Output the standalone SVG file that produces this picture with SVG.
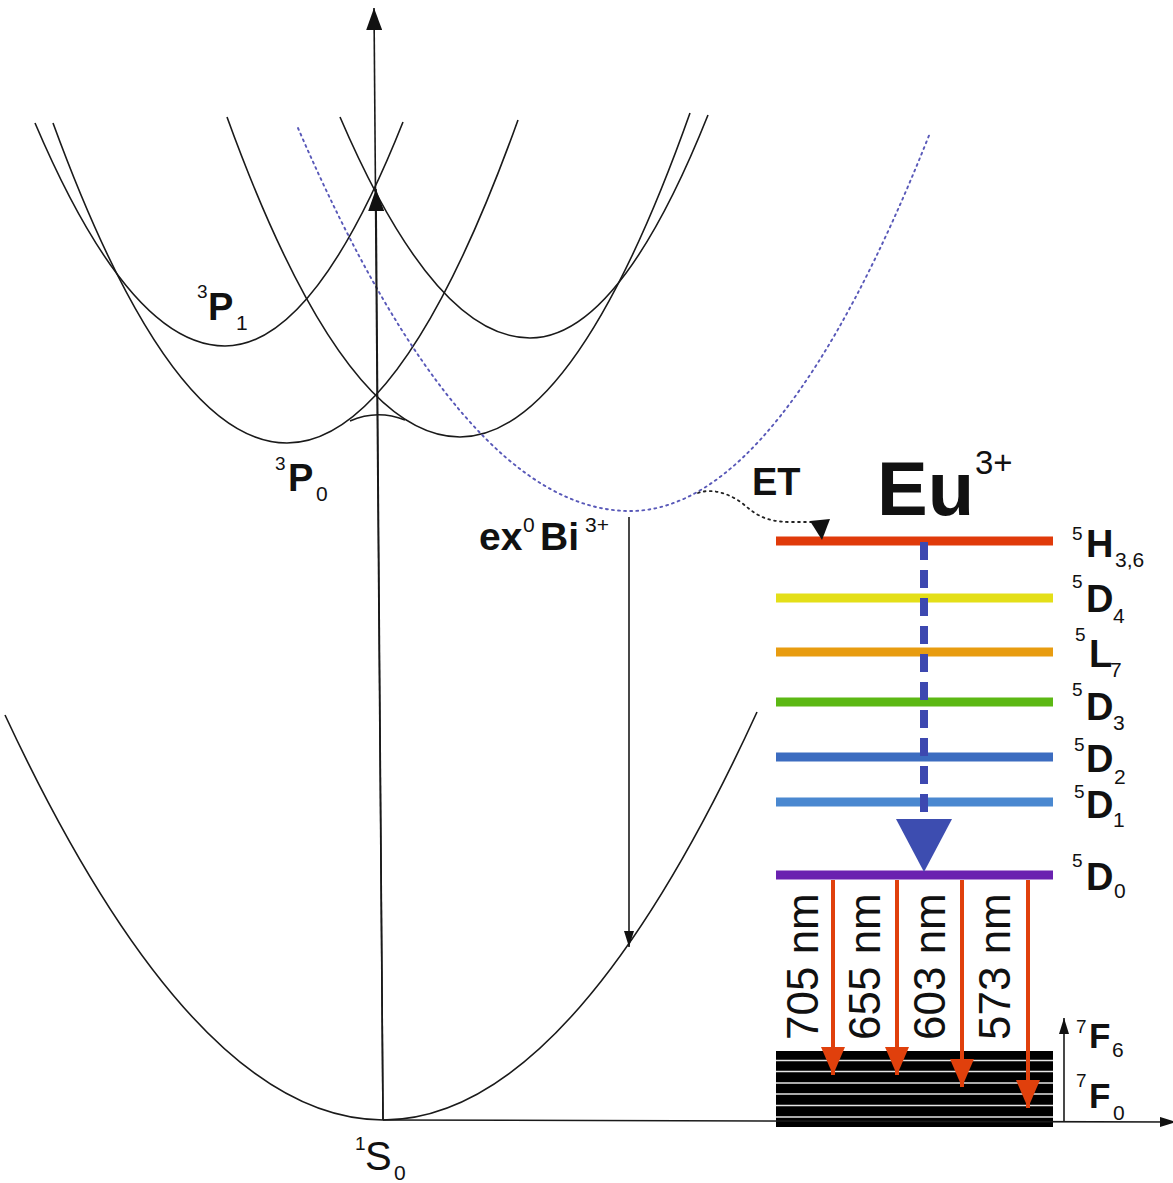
<svg xmlns="http://www.w3.org/2000/svg" width="1173" height="1183" viewBox="0 0 1173 1183">
<style>
text{font-family:"Liberation Sans",Arial,sans-serif;fill:#111}
.bd{font-weight:bold}
.curve{fill:none;stroke:#1a1a1a;stroke-width:1.6}
.dotb{fill:none;stroke:#5858b8;stroke-width:1.9;stroke-dasharray:1.9 4.2;stroke-linecap:round}
.dotk{fill:none;stroke:#222;stroke-width:1.8;stroke-dasharray:1.8 4.2;stroke-linecap:round}
.ax{stroke:#1a1a1a;stroke-width:1.6;fill:none}
.lvl{stroke-width:9}
.red{stroke:#e0400c;stroke-width:4}
.sup{font-size:19px}
.sub{font-size:21px}
.big{font-size:38px;font-weight:bold}
.nm{font-size:44px}
</style>
<defs>
<marker id="ahBig" viewBox="0 0 22 16" refX="22" refY="8" markerWidth="22" markerHeight="16" markerUnits="userSpaceOnUse" orient="auto">
<path d="M0,0 L22,8 L0,16 z" fill="#111"/>
</marker>
<marker id="ahSm" viewBox="0 0 16 10" refX="16" refY="5" markerWidth="16" markerHeight="10" markerUnits="userSpaceOnUse" orient="auto">
<path d="M0,0 L16,5 L0,10 z" fill="#111"/>
</marker>
<marker id="ahRed" viewBox="0 0 28 24" refX="28" refY="12" markerWidth="28" markerHeight="24" markerUnits="userSpaceOnUse" orient="auto">
<path d="M0,0 L28,12 L0,24 z" fill="#e0400c"/>
</marker>
</defs>

<g id="ground-1S0">
<path class="curve" d="M5,715 Q194,1120 383,1120 Q570,1120 757,712"/>
</g>
<g id="curve-3P1-left">
<path class="curve" d="M35,123 Q130,346 225,346 Q314,346 403,122"/>
</g>
<g id="curve-3P1-right">
<path class="curve" d="M340,117 Q435,338 530,338 Q619,338 708,115"/>
</g>
<g id="curve-3P0-left">
<path class="curve" d="M53,123 Q170,443 287,443 Q402,443 518,120"/>
</g>
<g id="curve-3P0-right">
<path class="curve" d="M227,117 Q343,437 460,437 Q575,437 690,113"/>
</g>
<g id="anticrossing">
<path class="curve" d="M350,421 Q377,409 405,420"/>
</g>
<g id="curve-exBi">
<path class="dotb" d="M298,128 Q464,511 630,511 Q780,511 930,133"/>
</g>

<g id="eu-levels">
<line id="lvl-5H" class="lvl" x1="776" y1="541" x2="1053" y2="541" stroke="#e03a0a"/>
<line id="lvl-5D4" class="lvl" x1="776" y1="598" x2="1053" y2="598" stroke="#e4df18"/>
<line id="lvl-5L7" class="lvl" x1="776" y1="652" x2="1053" y2="652" stroke="#e89c10"/>
<line id="lvl-5D3" class="lvl" x1="776" y1="702" x2="1053" y2="702" stroke="#5cb814"/>
<line id="lvl-5D2" class="lvl" x1="776" y1="757" x2="1053" y2="757" stroke="#3c6cc0"/>
<line id="lvl-5D1" class="lvl" x1="776" y1="802" x2="1053" y2="802" stroke="#4a88d0"/>
<line id="lvl-5D0" class="lvl" x1="776" y1="875" x2="1053" y2="875" stroke="#6a22b0"/>
</g>
<g id="7F-manifold">
<rect x="776" y="1051" width="277" height="76" fill="#000"/>
<g stroke="#e6e6e6" stroke-width="1.6">
<line x1="776" y1="1060.5" x2="1053" y2="1060.5"/>
<line x1="776" y1="1071.5" x2="1053" y2="1071.5"/>
<line x1="776" y1="1083" x2="1053" y2="1083"/>
<line x1="776" y1="1094" x2="1053" y2="1094"/>
<line x1="776" y1="1105.5" x2="1053" y2="1105.5"/>
<line x1="776" y1="1117" x2="1053" y2="1117"/>
</g>
</g>

<g id="connectors">
<line class="ax" x1="383" y1="1120" x2="374" y2="8" marker-end="url(#ahBig)"/>
<line class="ax" x1="383" y1="1120" x2="376" y2="189" marker-end="url(#ahBig)"/>
<line class="ax" x1="383" y1="1120" x2="1176" y2="1122" marker-end="url(#ahSm)"/>
<line class="ax" x1="629" y1="517" x2="629" y2="947" stroke-width="1.3" marker-end="url(#ahSm)"/>
<line class="ax" x1="1064" y1="1121" x2="1064" y2="1018" stroke-width="1.3" marker-end="url(#ahSm)"/>
<path class="dotk" d="M698,493 C712,488 728,493 742,503 C755,514 765,522 790,522 L812,522"/>
<polygon points="810,521 830,519 822,540" fill="#111"/>
<line x1="924" y1="542" x2="924" y2="815" stroke="#3d48b0" stroke-width="8" stroke-dasharray="18 10"/>
<polygon points="896,819 952,819 924,872" fill="#3d4db0"/>
<line class="red" x1="833" y1="880" x2="833" y2="1075" marker-end="url(#ahRed)"/>
<line class="red" x1="897" y1="880" x2="897" y2="1075" marker-end="url(#ahRed)"/>
<line class="red" x1="962" y1="880" x2="962" y2="1087" marker-end="url(#ahRed)"/>
<line class="red" x1="1028" y1="880" x2="1028" y2="1108" marker-end="url(#ahRed)"/>
</g>

<g id="labels">
<g id="lbl-3P1"><text class="sup" x="197" y="298">3</text><text class="big" x="208" y="320">P</text><text class="sub" x="236" y="330">1</text></g>
<g id="lbl-3P0"><text class="sup" x="275" y="470">3</text><text class="big" x="288" y="491">P</text><text class="sub" x="316" y="501">0</text></g>
<g id="lbl-1S0"><text class="sup" x="355" y="1150">1</text><text x="365" y="1170" font-size="40">S</text><text class="sub" x="394" y="1180">0</text></g>
<g id="lbl-exBi"><text class="bd" x="479" y="550" font-size="39">ex</text><text class="sub" x="523" y="532">0</text><text class="bd" x="540" y="550" font-size="39">Bi</text><text class="sub" x="585" y="532">3+</text></g>
<g id="lbl-ET"><text class="big" x="752" y="495">ET</text></g>
<g id="lbl-Eu"><text class="bd" x="877" y="515" font-size="76">Eu</text><text x="975" y="474" font-size="33">3+</text></g>
<g id="lbl-5H"><text class="sup" x="1072" y="540">5</text><text class="big" x="1086" y="557">H</text><text class="sub" x="1115" y="567">3,6</text></g>
<g id="lbl-5D4"><text class="sup" x="1072" y="588">5</text><text class="big" x="1086" y="612">D</text><text class="sub" x="1113" y="623">4</text></g>
<g id="lbl-5L7"><text class="sup" x="1075" y="641">5</text><text class="big" x="1089" y="667">L</text><text class="sub" x="1110" y="677">7</text></g>
<g id="lbl-5D3"><text class="sup" x="1072" y="696">5</text><text class="big" x="1086" y="720">D</text><text class="sub" x="1113" y="730">3</text></g>
<g id="lbl-5D2"><text class="sup" x="1074" y="751">5</text><text class="big" x="1086" y="772">D</text><text class="sub" x="1114" y="784">2</text></g>
<g id="lbl-5D1"><text class="sup" x="1074" y="798">5</text><text class="big" x="1086" y="818">D</text><text class="sub" x="1113" y="827">1</text></g>
<g id="lbl-5D0"><text class="sup" x="1072" y="867">5</text><text class="big" x="1086" y="890">D</text><text class="sub" x="1114" y="898">0</text></g>
<g id="lbl-7F6"><text class="sup" x="1076" y="1033">7</text><text class="bd" x="1089" y="1048" font-size="35">F</text><text class="sub" x="1112" y="1057">6</text></g>
<g id="lbl-7F0"><text class="sup" x="1076" y="1087">7</text><text class="bd" x="1089" y="1108" font-size="35">F</text><text class="sub" x="1113" y="1120">0</text></g>
<g id="lbl-nm">
<text class="nm" x="818" y="1040" transform="rotate(-90 818 1040)">705 nm</text>
<text class="nm" x="880" y="1040" transform="rotate(-90 880 1040)">655 nm</text>
<text class="nm" x="945" y="1040" transform="rotate(-90 945 1040)">603 nm</text>
<text class="nm" x="1010" y="1040" transform="rotate(-90 1010 1040)">573 nm</text>
</g>
</g>
</svg>
